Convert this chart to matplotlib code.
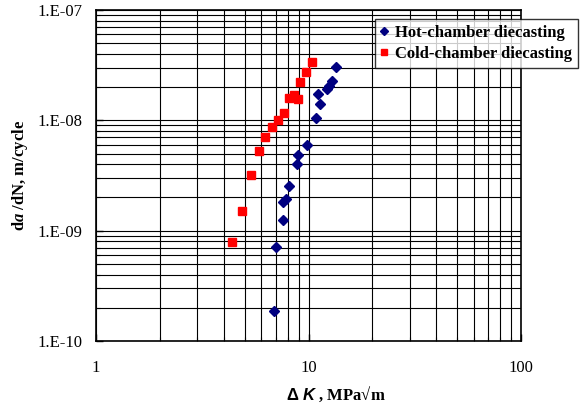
import matplotlib.pyplot as plt
from matplotlib.ticker import LogLocator, NullFormatter

# Hot-chamber diecasting (Delta K in MPa*sqrt(m), da/dN in m/cycle)
hot_dk = [13.5, 12.86, 12.53, 12.18, 11.12, 11.37, 10.81, 9.81, 8.9, 8.8,
          8.09, 7.81, 7.56, 7.61, 7.03, 6.88]
hot_rate = [3.04e-8, 2.27e-8, 2.06e-8, 1.91e-8, 1.72e-8, 1.41e-8, 1.04e-8,
            5.93e-9, 4.84e-9, 3.99e-9, 2.55e-9, 1.93e-9, 1.83e-9, 1.26e-9,
            7.06e-10, 1.88e-10]

# Cold-chamber diecasting
cold_dk = [10.35, 9.73, 9.15, 8.58, 8.09, 8.92, 7.64, 7.21, 6.71, 6.26,
           5.85, 5.35, 4.85, 4.37]
cold_rate = [3.38e-8, 2.76e-8, 2.24e-8, 1.69e-8, 1.58e-8, 1.56e-8, 1.16e-8,
             1.01e-8, 8.7e-9, 7.1e-9, 5.24e-9, 3.17e-9, 1.5e-9, 7.9e-10]

y_ticks = [1e-10, 1e-9, 1e-8, 1e-7]
y_labels = ['1.E-10', '1.E-09', '1.E-08', '1.E-07']
x_ticks = [1, 10, 100]
x_labels = ['1', '10', '100']

serif = 'Liberation Serif'
plt.rcParams['mathtext.fontset'] = 'custom'
plt.rcParams['mathtext.rm'] = 'Liberation Serif:bold'
plt.rcParams['mathtext.bf'] = 'Liberation Serif:bold'
plt.rcParams['mathtext.it'] = 'Liberation Serif:italic:bold'
plt.rcParams['mathtext.sf'] = 'Liberation Sans:bold'
plt.rcParams['mathtext.cal'] = 'Liberation Sans:italic:bold'

fig = plt.figure(figsize=(5.87, 4.07), dpi=100)
ax = fig.add_axes([96 / 587, 66 / 407, 425 / 587, 331 / 407])

ax.plot(hot_dk, hot_rate, linestyle='none', marker='D', markersize=5,
        color='#000080', label='Hot-chamber diecasting', zorder=3)
ax.plot(cold_dk, cold_rate, linestyle='none', marker='s', markersize=5.4,
        color='#ff0000', label='Cold-chamber diecasting', zorder=3)

ax.set_xscale('log')
ax.set_yscale('log')
ax.set_xlim(1, 100)
ax.set_ylim(1e-10, 1e-7)

ax.set_xticks(x_ticks)
ax.set_xticklabels(x_labels)
ax.set_yticks(y_ticks)
ax.set_yticklabels(y_labels)
ax.xaxis.set_minor_locator(LogLocator(base=10, subs=range(2, 10)))
ax.yaxis.set_minor_locator(LogLocator(base=10, subs=range(2, 10)))
ax.xaxis.set_minor_formatter(NullFormatter())
ax.yaxis.set_minor_formatter(NullFormatter())

ax.grid(True, which='both', color='black', linewidth=0.8)
ax.tick_params(which='both', direction='in', color='black')
ax.tick_params(which='major', length=5, width=1)
ax.tick_params(which='minor', length=3, width=0.8)
ax.tick_params(axis='x', which='major', pad=14)
ax.tick_params(axis='y', which='major', pad=10)
for lbl in ax.get_xticklabels() + ax.get_yticklabels():
    lbl.set_fontfamily(serif)
    lbl.set_fontsize(12)

for sp in ax.spines.values():
    sp.set_linewidth(1.2)
    sp.set_color('black')

ax.set_xlabel('$\\mathsf{\\Delta}\\ \\mathcal{K}$ , MPa\u221am', fontfamily=serif,
              fontsize=12, fontweight='bold', labelpad=6)
ax.xaxis.label.set_x((336 - 96) / 425)
ax.set_ylabel('d$\\mathit{a}$ /dN, m/cycle', fontfamily=serif,
              fontsize=12, fontweight='bold', labelpad=5)

leg = fig.legend(loc='upper left', bbox_to_anchor=(375 / 587, 1 - 19 / 407),
                 frameon=True, fancybox=False, edgecolor='black',
                 prop={'family': serif, 'weight': 'bold', 'size': 12},
                 handlelength=0.4, handletextpad=0.45, borderpad=0.35,
                 labelspacing=0.3, markerscale=0.8, borderaxespad=0)
leg.get_frame().set_linewidth(1.0)

fig.savefig('out.png', dpi=100)
